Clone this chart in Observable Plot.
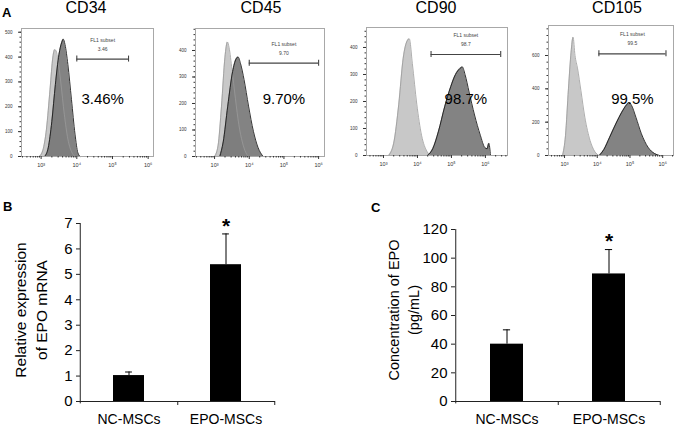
<!DOCTYPE html>
<html><head><meta charset="utf-8">
<script src="https://cdn.jsdelivr.net/npm/d3@7"></script>
<script src="https://cdn.jsdelivr.net/npm/@observablehq/plot@0.6"></script>
<style>
body{margin:0;background:#fff;font-family:"Liberation Sans",Arial,sans-serif;color:#000}
#root{position:relative;width:676px;height:426px;overflow:hidden;background:#fff}
#root svg{position:absolute;overflow:visible}
</style></head><body><div id="root"></div>
<script>
// ---------- Panel A: flow cytometry histograms (x = log10 fluorescence, y = count) ----------
const markers = ["CD34", "CD45", "CD90", "CD105"];
const subsetText = ["3.46", "9.70", "98.7", "99.5"];
const percentText = ["3.46%", "9.70%", "98.7%", "99.5%"];
const gateFrom = [4.0, 4.0, 4.4, 4.05];
const gateTo = [5.45, 6.0, 6.45, 6.1];
const gateCount = [392, 352, 374, 610];
const xTickExps = [3, 4, 5, 6];
const yTicks34 = [0, 100, 200, 300, 400, 500];
const yTicks45 = [0, 100, 200, 300, 400];
const yTicks90 = [0, 100, 200, 300, 400];
const yTicks105 = [0, 200, 400, 600];

const iso34 = [[2.95,0],[3.05,25],[3.15,110],[3.25,270],[3.33,400],[3.38,430],[3.42,425],[3.47,390],[3.55,300],[3.65,170],[3.75,70],[3.85,20],[3.95,0]];
const pos34 = [[3.1,0],[3.2,35],[3.3,140],[3.4,290],[3.5,410],[3.58,460],[3.62,472],[3.67,450],[3.75,370],[3.85,230],[3.95,90],[4.03,15],[4.1,0]];
const iso45 = [[3.0,0],[3.1,40],[3.2,190],[3.3,375],[3.37,432],[3.42,410],[3.5,330],[3.6,220],[3.7,120],[3.8,55],[3.9,15],[3.98,0]];
const pos45 = [[3.15,0],[3.25,55],[3.38,190],[3.52,320],[3.62,368],[3.68,375],[3.75,350],[3.85,290],[3.98,190],[4.12,95],[4.25,35],[4.4,0]];
const iso90 = [[3.15,0],[3.3,45],[3.45,190],[3.58,360],[3.7,425],[3.76,432],[3.85,340],[3.98,190],[4.12,75],[4.28,15],[4.4,0]];
const pos90 = [[4.3,0],[4.45,25],[4.62,90],[4.8,180],[4.98,255],[5.12,300],[5.25,322],[5.32,328],[5.4,300],[5.52,235],[5.68,150],[5.85,75],[5.98,30],[6.05,25],[6.1,45],[6.15,0]];
const iso105 = [[2.94,0],[3.03,120],[3.12,400],[3.2,620],[3.26,710],[3.32,600],[3.4,520],[3.5,390],[3.62,230],[3.78,90],[3.92,25],[4.05,0]];
const pos105 = [[4.06,0],[4.2,35],[4.38,110],[4.58,195],[4.75,260],[4.9,305],[4.97,318],[5.05,300],[5.18,230],[5.35,130],[5.55,50],[5.75,12],[5.9,0]];

// ---------- Panels B and C: bar charts ----------
const groups = ["NC-MSCs", "EPO-MSCs"];
const mrnaMean = [1.02, 5.38];
const mrnaErr = [0.14, 1.21];
const mrnaTicks = [0, 1, 2, 3, 4, 5, 6, 7];
const epoMean = [40, 89];
const epoErr = [10, 17];
const epoTicks = [0, 20, 40, 60, 80, 100, 120];

const FONT = '"Liberation Sans", Arial, sans-serif';
const root = document.getElementById("root");
function put(svg, left, top) { svg.style.left = left + "px"; svg.style.top = top + "px"; root.appendChild(svg); }
function label(text, x, baseline, size, bold, center = true) {
  const d = document.createElement("div");
  d.textContent = text;
  d.style.cssText = `position:absolute;white-space:nowrap;font-size:${size}px;line-height:${size}px;font-weight:${bold ? "bold" : "normal"};left:${x}px;top:${baseline - 0.846 * size}px;transform:translateX(${center ? -50 : 0}%)`;
  root.appendChild(d);
}
function vlabel(text, cx, cy, size) {
  const d = document.createElement("div");
  d.textContent = text;
  d.style.cssText = `position:absolute;white-space:nowrap;font-size:${size}px;line-height:${size}px;left:${cx}px;top:${cy}px;transform:translate(-50%,-50%) rotate(-90deg)`;
  root.appendChild(d);
}

const sup = {3: "³", 4: "⁴", 5: "⁵", 6: "⁶"};
const minorX = [];
for (let e = 2; e <= 6; e++) for (let k = 2; k <= 9; k++) minorX.push(e + Math.log10(k));

const hists = [
  {iso: iso34, pos: pos34, frame: [21, 153, 28, 156], xd: [2.45, 6.15], yd: [0, 515], yt: yTicks34, minor: 20},
  {iso: iso45, pos: pos45, frame: [195, 324, 28, 156], xd: [2.45, 6.17], yd: [0, 483], yt: yTicks45, minor: 20},
  {iso: iso90, pos: pos90, frame: [366, 507, 27, 155], xd: [2.5, 6.65], yd: [0, 474], yt: yTicks90, minor: 20},
  {iso: iso105, pos: pos105, frame: [548, 673, 25, 155], xd: [2.51, 6.33], yd: [0, 780], yt: yTicks105, minor: 40}
];
const titleX = [86, 261, 436, 617];

hists.forEach((h, i) => {
  const [L, R, T, B] = h.frame;
  const mL = 20, mR = 4, mT = 4, mB = 16;
  const gate = [{from: gateFrom[i], to: gateTo[i], count: gateCount[i], mid: (gateFrom[i] + gateTo[i]) / 2}];
  const minorY = d3.range(0, h.yd[1], h.minor);
  const X = d => d[0], Y = d => d[1];
  const chart = Plot.plot({
    width: R - L + mL + mR, height: B - T + mT + mB,
    marginLeft: mL, marginRight: mR, marginTop: mT, marginBottom: mB,
    x: {domain: h.xd, label: null},
    y: {domain: h.yd, label: null},
    style: {fontFamily: FONT, background: "transparent", color: "#333"},
    marks: [
      Plot.areaY(h.iso, {x: X, y: Y, fill: "#c8c8c8", curve: "monotone-x"}),
      Plot.areaY(h.pos, {x: X, y: Y, fill: "#767676", fillOpacity: 0.9, curve: "monotone-x"}),
      Plot.lineY(h.iso, {x: X, y: Y, stroke: "#999", strokeWidth: 0.8, curve: "monotone-x"}),
      Plot.lineY(h.pos, {x: X, y: Y, stroke: "#1c1c1c", strokeWidth: 0.9, curve: "monotone-x"}),
      Plot.frame({stroke: "#a8a8a8"}),
      Plot.ruleY(gate, {x1: "from", x2: "to", y: "count", stroke: "#444", strokeWidth: 1.2}),
      Plot.ruleX(gate, {x: "from", y1: "count", y2: "count", insetTop: -3, insetBottom: -3, stroke: "#444", strokeWidth: 1.1}),
      Plot.ruleX(gate, {x: "to", y1: "count", y2: "count", insetTop: -3, insetBottom: -3, stroke: "#444", strokeWidth: 1.1}),
      Plot.text(gate, {x: "mid", y: "count", text: () => "FL1 subset", dy: -19, fontSize: 5, fill: "#444"}),
      Plot.text(gate, {x: "mid", y: "count", text: () => subsetText[i], dy: -10, fontSize: 5, fill: "#444"}),
      Plot.text(gate, {x: "mid", frameAnchor: "top", text: () => percentText[i], dy: 92.5 - T, fontSize: 15, fill: "#000"}),
      Plot.axisX({ticks: xTickExps, tickFormat: d => "10" + sup[d], tickSize: 3, tickPadding: 4, fontSize: 5.5}),
      Plot.axisX({ticks: minorX.filter(v => v > h.xd[0] && v < h.xd[1]), tickFormat: () => "", tickSize: 1.5}),
      Plot.axisY({ticks: h.yt, tickFormat: d => String(d), tickSize: 3, tickPadding: 6, fontSize: 4.5}),
      Plot.axisY({ticks: minorY, tickFormat: () => "", tickSize: 1.5})
    ]
  });
  put(chart, L - mL, T - mT);
  label(markers[i], titleX[i], 14, 16, false);
});
label("A", 2, 17, 13, true, false);

// ---------- bar panels ----------
function barPanel(cfg) {
  const {left, top, width, height, mL, mR, mT, mB, means, errs, yMax, ticks} = cfg;
  const data = groups.map((g, i) => ({g, m: means[i], top: means[i] + errs[i]}));
  const step = (width - mL - mR) / groups.length;
  const bw = step * 0.32;
  const unit = (height - mT - mB) / yMax;
  const tickLen = 4 / unit;
  const chart = Plot.plot({
    width, height, marginLeft: mL, marginRight: mR, marginTop: mT, marginBottom: mB,
    x: {domain: groups, paddingInner: 0.68, paddingOuter: 0.34, label: null},
    y: {domain: [0, yMax], label: null},
    style: {fontFamily: FONT, background: "transparent", color: "#000"},
    marks: [
      Plot.barY(data, {x: "g", y: "m", fill: "#000"}),
      Plot.ruleX(data, {x: "g", y1: "m", y2: "top", stroke: "#000", strokeWidth: 1}),
      Plot.tickY(data, {x: "g", y: "top", stroke: "#000", strokeWidth: 1, insetLeft: (bw - 7) / 2, insetRight: (bw - 7) / 2}),
      Plot.text([data[1]], {x: "g", y: "top", text: () => "*", fontSize: 21, fontWeight: "bold", dy: -8}),
      Plot.ruleY([0], {stroke: "#222"}),
      Plot.ruleX([groups[0]], {x: d => d, dx: -step / 2, y1: -tickLen * 0.6, y2: yMax, stroke: "#222"}),
      Plot.ruleX(groups, {x: d => d, dx: step / 2, y1: 0, y2: -tickLen, stroke: "#222"}),
      Plot.axisY({ticks, tickFormat: d => String(d), tickSize: 4, tickPadding: 4, fontSize: 15, stroke: "#222"}),
      Plot.axisX({tickSize: 0, tickPadding: 13, fontSize: 14})
    ]
  });
  put(chart, left, top);
}
barPanel({left: 0, top: 205, width: 290, height: 220, mL: 80, mR: 15, mT: 18, mB: 24,
  means: mrnaMean, errs: mrnaErr, yMax: 7, ticks: mrnaTicks});
barPanel({left: 340, top: 205, width: 336, height: 220, mL: 115, mR: 16, mT: 24, mB: 24,
  means: epoMean, errs: epoErr, yMax: 120, ticks: epoTicks});

label("B", 3, 211, 13, true, false);
label("C", 371, 212, 13, true, false);
vlabel("Relative expression", 21, 310, 15.5);
vlabel("of EPO mRNA", 42, 310, 15.5);
vlabel("Concentration of EPO", 394, 310, 14.5);
vlabel("(pg/mL)", 414, 310, 14.5);
</script></body></html>
